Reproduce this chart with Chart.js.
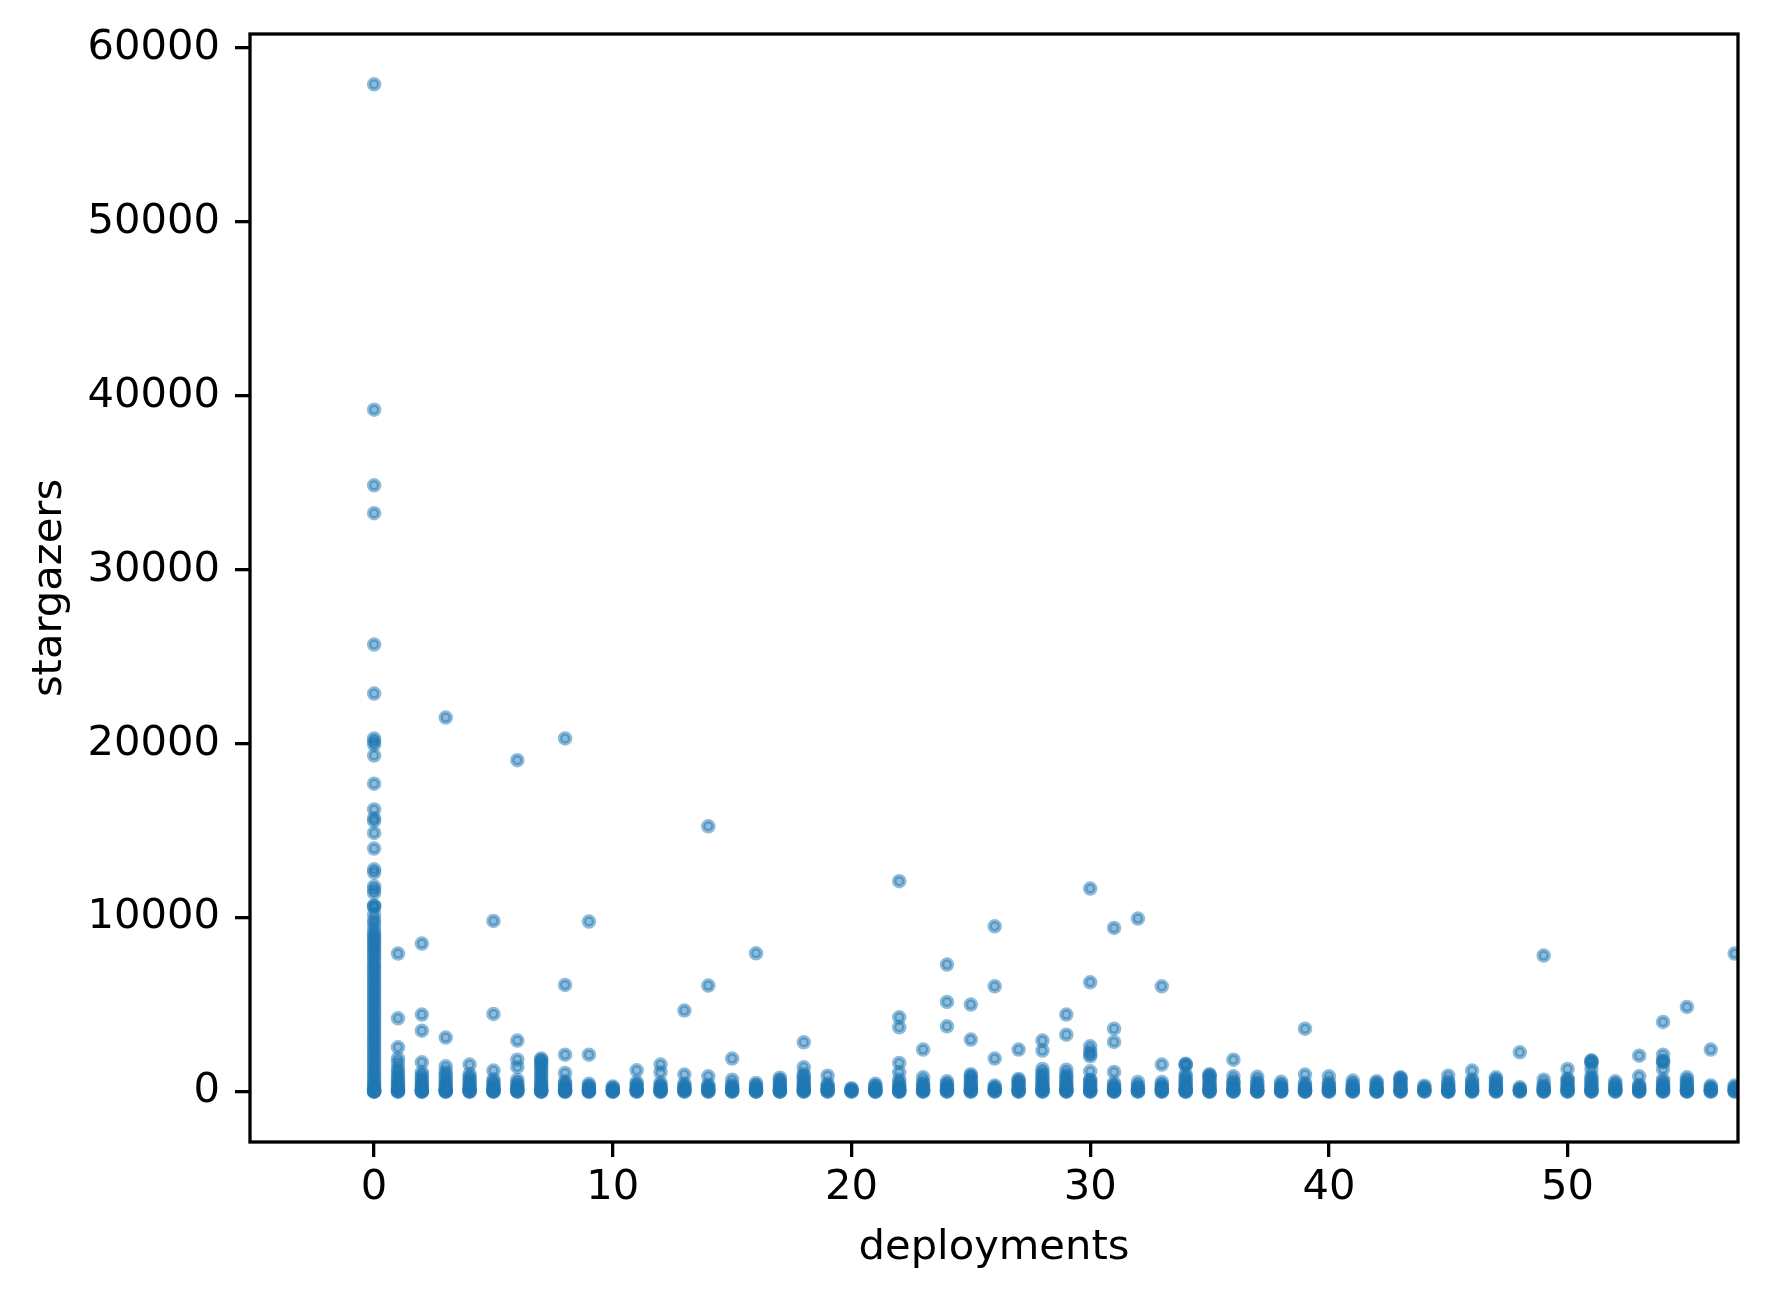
<!DOCTYPE html>
<html>
<head>
<meta charset="utf-8">
<script src="https://cdn.jsdelivr.net/npm/chart.js@4/dist/chart.umd.min.js"></script>
<style>
  html, body { margin: 0; padding: 0; background: #ffffff; }
  #wrap { width: 1768px; height: 1302px; position: relative; }
  canvas { display: block; }
</style>
</head>
<body>
<div id="wrap"><canvas id="c" width="1768" height="1302"></canvas></div>
<script>
// x categories: number of deployments
const deployments = [0,1,2,3,4,5,6,7,8,9,10,11,12,13,14,15,16,17,18,19,20,21,22,23,24,25,26,27,28,29,30,31,32,33,34,35,36,37,38,39,40,41,42,43,44,45,46,47,48,49,50,51,52,53,54,55,56,57];

// stargazers observed for each deployments value (same order as above)
const stargazers = [
  [57900,39200,34850,33250,25700,22880,20300,20120,19950,19320,17700,16220,15720,15560,14870,13970,12780,12590,11800,11610,11430,10700,10650,10600,10180,9880,9690,9420,9180,9020,8870,8760,8610,8480,8330,8190,8040,7880,7720,7560,7390,7230,7080,6920,6750,6610,6440,6290,6130,5970,5820,5660,5490,5340,5180,5020,4870,4710,4560,4390,4240,4080,3920,3770,3610,3450,3300,3140,2990,2830,2680,2520,2360,2210,2050,1900,1740,1590,1430,1280,1120,970,820,680,540,420,310,220,150,95,55,25,10,3,0],
  [7935,4216,2550,1900,1650,1350,1180,1010,860,720,590,470,360,260,180,110,60,25,8,0],
  [8510,4427,3507,1688,1100,940,790,650,520,400,300,210,140,80,40,14,3,0],
  [21500,3105,1457,1150,980,820,670,540,420,310,220,150,90,45,18,5,0],
  [1553,1000,850,710,580,460,350,260,180,110,60,25,7,0],
  [9813,4466,1208,700,560,440,330,240,160,100,50,20,5,0],
  [19050,2933,1840,1418,690,500,380,280,190,120,65,30,9,0],
  [1900,1820,1720,1610,1480,1350,1200,1040,890,750,610,480,360,260,170,100,50,18,4,0],
  [20300,6133,2127,1073,600,470,350,250,160,95,45,15,2,0],
  [9775,2127,450,340,240,160,95,45,15,3,0],
  [300,220,150,90,45,15,2,0],
  [1227,550,420,310,215,140,80,35,10,0],
  [1553,1112,500,380,270,180,110,55,20,4,0],
  [4657,978,450,340,240,160,95,45,14,0],
  [15250,6095,882,400,300,210,135,75,30,8,0],
  [1898,690,400,300,210,135,75,30,8,0],
  [7950,500,380,270,180,110,55,20,3,0],
  [800,680,560,450,350,260,180,110,55,20,4,0],
  [2837,1400,1016,900,760,630,510,400,300,210,140,80,35,10,0],
  [920,450,340,240,160,95,45,15,0],
  [200,140,85,40,12,0],
  [450,340,240,160,95,45,15,2,0],
  [12100,4275,3700,1650,1112,690,500,380,270,180,110,55,20,3,0],
  [2415,824,550,420,310,215,140,80,35,10,0],
  [7302,5156,3757,594,450,340,240,160,95,45,15,0],
  [5003,2990,1000,900,780,660,540,430,330,240,160,95,45,15,0],
  [9506,6057,1898,350,250,165,100,50,18,0],
  [2415,728,650,530,420,320,230,150,85,40,12,0],
  [2933,2358,1303,1100,960,820,690,560,440,330,240,160,95,45,15,0],
  [4427,3277,1265,1000,870,740,610,490,380,280,195,125,70,30,8,0],
  [11672,6287,2607,2320,2150,2032,1170,690,650,520,400,300,210,140,80,35,10,0],
  [9410,3622,2856,1131,500,380,270,180,110,55,20,3,0],
  [9947,556,350,250,165,100,50,18,0],
  [6057,1553,556,400,300,210,135,75,30,8,0],
  [1600,1560,1520,1000,860,720,590,470,360,260,180,110,55,20,3,0],
  [1000,940,880,800,680,560,450,350,260,180,110,55,20,4,0],
  [1840,882,594,550,420,310,215,140,80,35,10,0],
  [853,600,470,350,250,160,95,45,15,2,0],
  [565,400,300,210,135,75,30,8,0],
  [3622,978,500,380,270,180,110,55,20,3,0],
  [882,550,420,310,215,140,80,35,10,0],
  [633,450,340,240,160,95,45,15,0],
  [594,500,380,270,180,110,55,20,3,0],
  [824,780,720,620,510,400,300,210,140,80,35,10,0],
  [345,250,165,100,50,18,0],
  [920,600,470,350,250,160,95,45,15,2,0],
  [1208,700,570,450,340,240,160,95,45,15,0],
  [824,700,570,450,340,240,160,95,45,15,0],
  [2261,250,165,100,50,18,0],
  [7820,690,400,300,210,135,75,30,8,0],
  [1303,728,700,560,440,330,240,160,95,45,15,0],
  [1800,1760,1700,1640,1303,900,780,650,530,420,320,230,150,85,40,12,0],
  [594,450,340,240,160,95,45,15,0],
  [2070,882,400,300,210,135,75,30,8,0],
  [4006,2127,1780,1730,1700,1303,700,560,440,330,240,160,95,45,15,0],
  [4869,824,650,520,400,300,210,140,80,35,10,0],
  [2415,350,250,165,100,50,18,0],
  [7935,350,250,165,100,50,18,0]
];

// axis tick values
const xTicks = [0,10,20,30,40,50];
const yTicks = [0,10000,20000,30000,40000,50000,60000];

const points = [];
deployments.forEach((d, i) => {
  stargazers[i].forEach(s => points.push({ x: d, y: s }));
});

const FONT = { family: 'DejaVu Sans', size: 41.67, lineHeight: 1.2 };
const LW = 3.3;

const spines = {
  id: 'spines',
  afterDatasetsDraw(chart) {
    const { ctx, chartArea: a } = chart;
    ctx.save();
    ctx.strokeStyle = '#000';
    ctx.lineWidth = LW;
    ctx.lineJoin = 'miter';
    ctx.strokeRect(a.left, a.top, a.right - a.left, a.bottom - a.top);
    ctx.restore();
  }
};

function noPad(scale) {
  scale.paddingTop = 0;
  scale.paddingBottom = 0;
  scale.paddingLeft = 0;
  scale.paddingRight = 0;
}

new Chart(document.getElementById('c'), {
  type: 'scatter',
  data: {
    datasets: [{
      data: points,
      backgroundColor: 'rgba(31,119,180,0.5)',
      borderColor: 'rgba(31,119,180,0.5)',
      borderWidth: 4.5,
      pointRadius: 5,
      pointHoverRadius: 5
    }]
  },
  options: {
    responsive: false,
    devicePixelRatio: 1,
    animation: false,
    events: [],
    layout: { padding: { top: 34, right: 30, left: 0, bottom: 0 } },
    plugins: { legend: { display: false }, tooltip: { enabled: false } },
    scales: {
      x: {
        type: 'linear',
        min: -5.2,
        max: 57.14,
        afterFit(scale) { scale.height = 160; noPad(scale); },
        afterBuildTicks(scale) { scale.ticks = xTicks.map(v => ({ value: v })); },
        grid: { drawOnChartArea: false, drawTicks: true, tickLength: 15, lineWidth: LW, color: '#000' },
        border: { display: false },
        ticks: { font: FONT, color: '#000', padding: 6, maxRotation: 0, callback: v => String(v) },
        title: { display: true, text: 'deployments', font: FONT, color: '#000', padding: { top: 0, bottom: 29 } }
      },
      y: {
        type: 'linear',
        min: -2895,
        max: 60795,
        afterFit(scale) { scale.width = 250; noPad(scale); },
        afterBuildTicks(scale) { scale.ticks = yTicks.map(v => ({ value: v })); },
        grid: { drawOnChartArea: false, drawTicks: true, tickLength: 15, lineWidth: LW, color: '#000' },
        border: { display: false },
        ticks: { font: FONT, color: '#000', padding: 15, callback: v => String(v) },
        title: { display: true, text: 'stargazers', font: FONT, color: '#000', padding: { top: 25, bottom: 0 } }
      }
    }
  },
  plugins: [spines]
});
</script>
</body>
</html>
